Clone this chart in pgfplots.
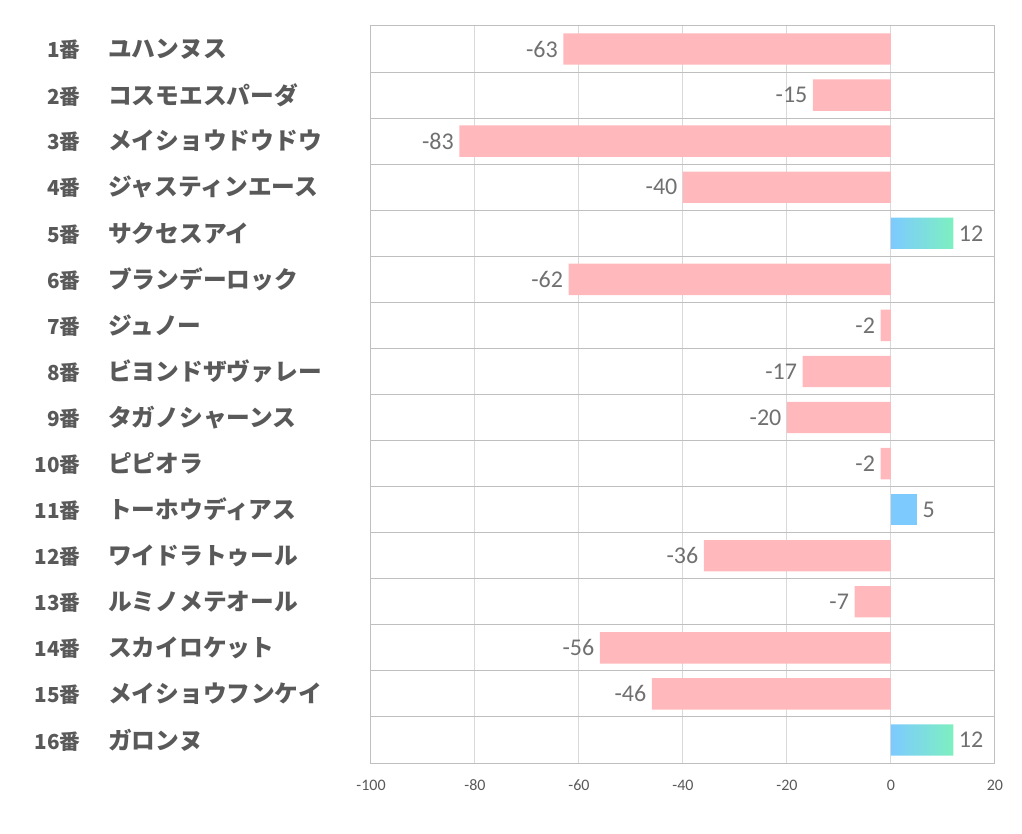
\documentclass[border=0pt]{standalone}
\usepackage{fontspec}
\setmainfont{Carlito}
\newfontfamily\jp{Noto Sans CJK JP}
\usepackage{pgfplots}
\pgfplotsset{compat=1.18}
\definecolor{barpink}{RGB}{255,185,188}
\definecolor{barblue}{RGB}{125,202,255}
\definecolor{bargreen}{RGB}{125,240,192}
\definecolor{rowline}{RGB}{191,191,191}
\definecolor{gridc}{RGB}{217,217,217}
\definecolor{txt}{RGB}{89,89,89}
\definecolor{vtxt}{RGB}{112,112,112}
\newcommand{\lab}[2]{\makebox[50pt][r]{\fontsize{15.5}{18}\selectfont\jp\bfseries #1}\hspace{21pt}\makebox[190pt][l]{\fontsize{17.8}{20}\selectfont\jp\bfseries #2}}
\begin{document}
\begin{tikzpicture}
\path[use as bounding box] (-278.25pt,-53.25pt) rectangle (488.25pt,572.25pt);
\begin{axis}[
  scale only axis,
  width=468pt, height=552.75pt,
  xmin=-100, xmax=20,
  ymin=0.5, ymax=16.5,
  y dir=reverse,
  xtick={-100,-80,...,20},
  ytick={1,...,16},
  yticklabels={
    {\lab{1番}{ユハンヌス}},
    {\lab{2番}{コスモエスパーダ}},
    {\lab{3番}{メイショウドウドウ}},
    {\lab{4番}{ジャスティンエース}},
    {\lab{5番}{サクセスアイ}},
    {\lab{6番}{ブランデーロック}},
    {\lab{7番}{ジュノー}},
    {\lab{8番}{ビヨンドザヴァレー}},
    {\lab{9番}{タガノシャーンス}},
    {\lab{10番}{ピピオラ}},
    {\lab{11番}{トーホウディアス}},
    {\lab{12番}{ワイドラトゥール}},
    {\lab{13番}{ルミノメテオール}},
    {\lab{14番}{スカイロケット}},
    {\lab{15番}{メイショウフンケイ}},
    {\lab{16番}{ガロンヌ}}},
  yticklabel style={anchor=west, inner sep=0pt, xshift=-268.25pt, text=txt},
  xticklabel style={font=\fontsize{12}{14}\selectfont, text=txt, yshift=-9pt},
  /pgf/number format/assume math mode=true,
  major tick length=0pt, minor tick length=0pt,
  xmajorgrids=true,
  major grid style={gridc, line width=0.75pt},
  minor ytick={0.5,1.5,...,16.5},
  yminorgrids=true,
  minor grid style={rowline, line width=0.75pt},
  axis line style={rowline, line width=0.75pt},
  xbar, bar width=0.68,
  bar shift=0pt,
  point meta=x,
  nodes near coords,
  nodes near coords style={font=\fontsize{18}{20}\selectfont, text=vtxt, inner sep=4pt},
]
\addplot[draw=none, fill=barpink] coordinates {
  (-63,1) (-15,2) (-83,3) (-40,4) (-62,6) (-2,7) (-17,8) (-20,9)
  (-2,10) (-36,12) (-7,13) (-56,14) (-46,15)};
\addplot[draw=none, left color=barblue, middle color=barblue, right color=bargreen] coordinates {
  (12,5) (12,16)};
\addplot[draw=none, fill=barblue] coordinates {(5,11)};
\end{axis}
\end{tikzpicture}
\end{document}
